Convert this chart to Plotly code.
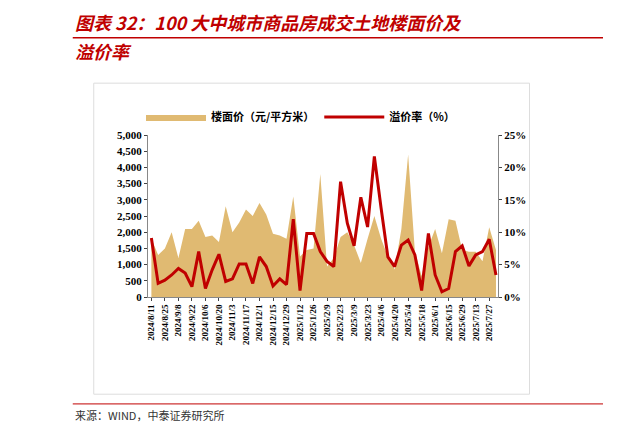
import datetime as dt
import plotly.graph_objects as go

start = dt.date(2024, 8, 11)
dates = [start + dt.timedelta(weeks=i) for i in range(52)]
labels = [f"{d.year}/{d.month}/{d.day}" for d in dates]

price = [1800, 1300, 1500, 2000, 1200, 2100, 2100, 2350, 1850, 1900,
         1700, 2800, 2000, 2300, 2700, 2500, 2900, 2550, 1950, 1900,
         1800, 3100, 1250, 1450, 1500, 3800, 940, 1200, 1850, 2000,
         1600, 1050, 1800, 2500, 1800, 1250, 850, 2100, 4400, 1400,
         650, 1550, 2100, 1350, 2400, 2350, 1450, 1400, 1400, 1100,
         2150, 1450]
premium = [9.1, 2.1, 2.6, 3.4, 4.4, 3.7, 1.6, 7.0, 1.3, 4.2,
           6.6, 2.4, 2.8, 5.1, 5.1, 2.1, 6.2, 4.7, 1.7, 2.8,
           1.9, 12.0, 1.0, 9.8, 9.8, 7.0, 5.5, 4.7, 17.8, 11.4,
           7.9, 15.4, 10.8, 21.7, 13.7, 6.2, 4.7, 8.0, 8.8, 6.5,
           1.0, 9.8, 3.4, 0.8, 1.3, 7.0, 7.9, 4.8, 6.5, 7.0,
           8.9, 3.4]

left_ticks = [0, 500, 1000, 1500, 2000, 2500, 3000, 3500, 4000, 4500, 5000]
right_ticks = [0, 5, 10, 15, 20, 25]

FONT = "Liberation Serif, Noto Serif CJK SC, Noto Sans CJK SC"

fig = go.Figure()
fig.add_trace(go.Scatter(x=labels, y=price, name="楼面价（元/平方米）", mode="lines",
                         line=dict(width=0, color="#E0BA72"), fill="tozeroy",
                         fillcolor="#E0BA72"))
fig.add_trace(go.Scatter(x=labels, y=premium, name="溢价率（%）", mode="lines",
                         line=dict(width=3, color="#C00000"), yaxis="y2"))

fig.update_layout(
    width=621, height=437, paper_bgcolor="white", plot_bgcolor="white",
    margin=dict(l=140, r=131, t=127, b=148),
    font=dict(family=FONT, size=11, color="black"),
    showlegend=True,
    legend=dict(orientation="h", x=-0.02, y=1.2, xanchor="left", yanchor="top",
                font=dict(size=11, family="Noto Sans CJK SC", weight="bold"),
                itemwidth=60, tracegroupgap=0),
    xaxis=dict(type="category", tickvals=labels[::2], ticktext=labels[::2],
               tickangle=-90, ticks="outside", ticklen=3, showline=True,
               linecolor="#888", showgrid=False, tickfont=dict(size=9, weight="bold"),
               range=[-0.5, 51.3], automargin=False),
    yaxis=dict(range=[0, 5000], tickvals=left_ticks, automargin=False,
               ticktext=[f"{v:,}" for v in left_ticks], ticks="outside", ticklen=3,
               showline=True, linecolor="#888", showgrid=False,
               tickfont=dict(size=11, weight="bold")),
    yaxis2=dict(range=[0, 25], tickvals=right_ticks, automargin=False,
                ticktext=[f"{v}%" for v in right_ticks], overlaying="y", side="right",
                ticks="outside", ticklen=3, showline=True, linecolor="#888",
                showgrid=False, tickfont=dict(size=11, weight="bold")),
)

fig.add_annotation(xref="paper", yref="paper", x=-0.215, y=1.70, xanchor="left",
                   yanchor="middle", showarrow=False,
                   text="<b><i>图表 32：100 大中城市商品房成交土地楼面价及</i></b>",
                   font=dict(size=18, color="#C00000", family="Noto Sans CJK SC"))
fig.add_annotation(xref="paper", yref="paper", x=-0.215, y=1.52, xanchor="left",
                   yanchor="middle", showarrow=False,
                   text="<b><i>溢价率</i></b>",
                   font=dict(size=18, color="#C00000", family="Noto Sans CJK SC"))
fig.add_annotation(xref="paper", yref="paper", x=-0.215, y=-0.73, xanchor="left",
                   yanchor="middle", showarrow=False, text="来源：WIND，中泰证券研究所",
                   font=dict(size=11, color="#333", family="Noto Sans CJK SC"))
fig.add_shape(type="line", xref="paper", yref="paper", x0=-0.215, x1=1.3,
              y0=1.6, y1=1.6, line=dict(color="#C00000", width=1.5))
fig.add_shape(type="line", xref="paper", yref="paper", x0=-0.215, x1=1.3,
              y0=-0.66, y1=-0.66, line=dict(color="#C00000", width=1))
fig.add_shape(type="rect", xref="paper", yref="paper", x0=-0.155, x1=1.09,
              y0=-0.6, y1=1.32, line=dict(color="#DDDDDD", width=1))

fig.write_html("out.html")
